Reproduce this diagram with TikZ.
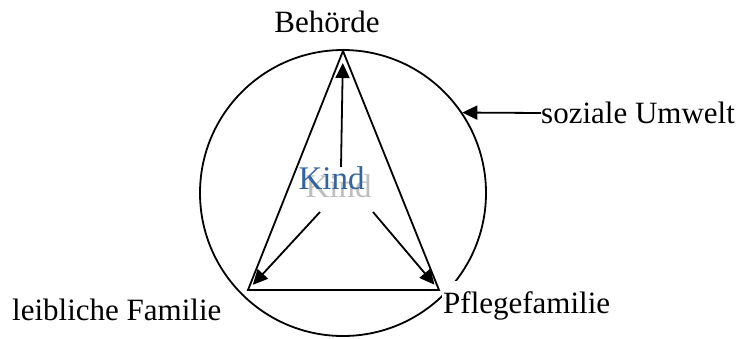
\documentclass[tikz,border=0pt]{standalone}
\usepackage{fontspec}
\setmainfont{Liberation Serif}
\usetikzlibrary{arrows.meta}
\definecolor{kindblue}{RGB}{52,100,158}
\definecolor{shadowgray}{RGB}{190,190,190}
\begin{document}
\begin{tikzpicture}[x=1pt,y=-1pt,
  lbl/.style={font=\fontsize{31}{37}\selectfont, inner sep=0pt},
  ln/.style={line width=1.8pt},
  arr/.style={line width=1.8pt, -{Triangle[length=15pt,width=14pt]}}]
\useasboundingbox (0,0) rectangle (741,338);
% social environment circle
\node[circle, draw, line width=1.8pt, minimum size=286pt, inner sep=0pt] (env) at (343,193) {};
% label with white background opening the circle
\node[lbl, anchor=base west, fill=white, inner xsep=1pt, inner ysep=10pt] (pf) at (442,313) {Pflegefamilie};
% triangle
\coordinate (A) at (343,51);
\coordinate (L) at (248,290);
\coordinate (R) at (439,290);
\draw[ln, line join=miter] (A) -- (L) -- (R) -- cycle;
% labels
\node[lbl, anchor=base] (beh) at (327,32) {Behörde};
\node[lbl, anchor=base west] (lf) at (12,320) {leibliche Familie};
\node[lbl, anchor=west] (soz) at (541,113) {soziale Umwelt};
\node[lbl, font=\fontsize{33}{39}\selectfont, anchor=base, text=shadowgray] (kindshadow) at (338.5,197) {Kind};
\node[lbl, font=\fontsize{33}{39}\selectfont, anchor=base, text=kindblue] (kind) at (331.5,189) {Kind};
% arrows
\coordinate (k1) at (341,167);
\coordinate (k2) at (320,212);
\coordinate (k3) at (373,212);
\draw[arr, shorten >=12pt] (k1) -- (A);
\draw[arr, shorten >=7pt] (k2) -- (L);
\draw[arr, shorten >=7pt] (k3) -- (R);
\draw[arr] (soz.west) -- (env.34);
\end{tikzpicture}
\end{document}
